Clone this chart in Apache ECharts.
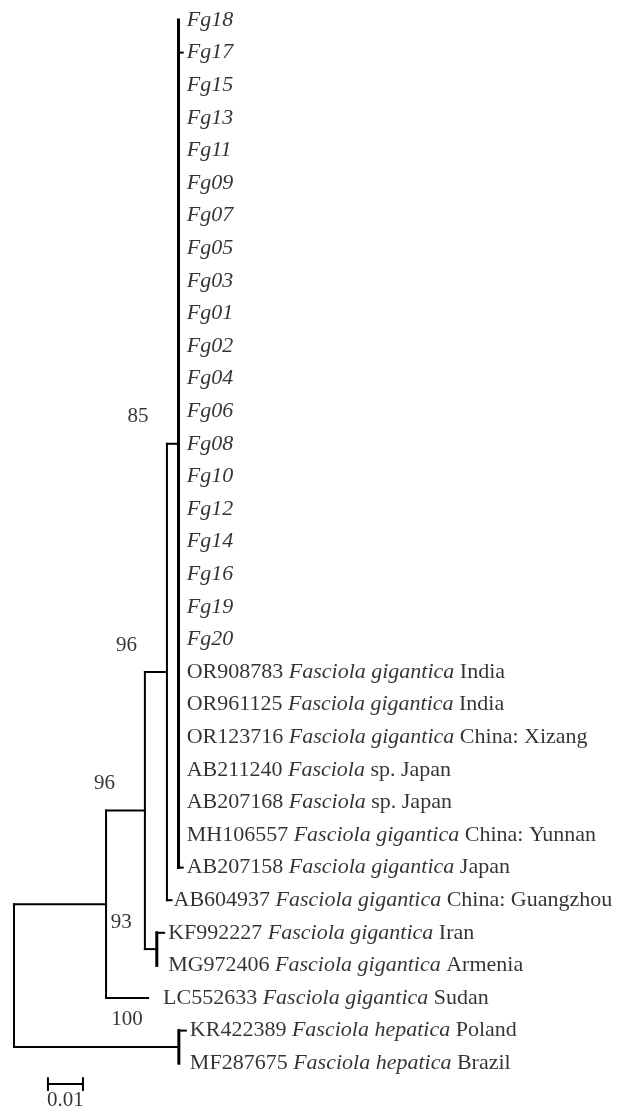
<!DOCTYPE html>
<html>
<head>
<meta charset="utf-8">
<script src="https://cdn.jsdelivr.net/npm/echarts@6/dist/echarts.min.js"></script>
<style>
html,body{margin:0;padding:0;background:#fff;}
#chart{width:623px;height:1106px;}
</style>
</head>
<body>
<div id="chart"></div>
<script>
// ---- Data ----
const leafIds = ['Fg18','Fg17','Fg15','Fg13','Fg11','Fg09','Fg07','Fg05','Fg03','Fg01',
  'Fg02','Fg04','Fg06','Fg08','Fg10','Fg12','Fg14','Fg16','Fg19','Fg20',
  'OR908783','OR961125','OR123716','AB211240','AB207168','MH106557','AB207158',
  'AB604937','KF992227','MG972406','LC552633','KR422389','MF287675'];
const leafTaxa = ['','','','','','','','','','','','','','','','','','','','',
  'Fasciola gigantica','Fasciola gigantica','Fasciola gigantica','Fasciola','Fasciola',
  'Fasciola gigantica','Fasciola gigantica','Fasciola gigantica','Fasciola gigantica',
  'Fasciola gigantica','Fasciola gigantica','Fasciola hepatica','Fasciola hepatica'];
const leafPlaces = ['','','','','','','','','','','','','','','','','','','','',
  'India','India','China: Xizang','sp. Japan','sp. Japan','China: Yunnan','Japan',
  'China: Guangzhou','Iran','Armenia','Sudan','Poland','Brazil'];
// parent internal node index of each leaf
const leafParents = [4,4,4,4,4,4,4,4,4,4,4,4,4,4,4,4,4,4,4,4,
  4,4,4,4,4,4,4,3,5,5,1,6,6];
const leafLengths = [0,0.0012,0,0,0,0,0,0,0,0,0,0,0,0,0,0,0,0,0,0,
  0,0,0,0,0,0,0.0012,0.0013,0.0021,0,0.0120,0.0020,0];
// internal nodes
const nodeIds = ['root','ingroup','cladeA','cladeB','cladeC','kfmg','hepatica'];
const nodeParents = [-1,0,1,2,3,2,0];
const nodeLengths = [0,0.0263,0.0111,0.0063,0.0033,0.0034,0.0471];
// bootstrap support
const bootNodes = [4,3,2,5,6];
const bootValues = ['85','96','96','93','100'];
// scale bar
const scaleStart = 0.0097;
const scaleLength = 0.01;
const scaleLabel = '0.01';

// ---- Layout from tree ----
const nN = nodeIds.length;
const nodeX = new Array(nN).fill(0);
for (let i = 0; i < nN; i++) {
  nodeX[i] = nodeParents[i] < 0 ? 0 : nodeX[nodeParents[i]] + nodeLengths[i];
}
const leafX = leafIds.map((_, j) => nodeX[leafParents[j]] + leafLengths[j]);
const leafY = leafIds.map((_, j) => j);
const childYs = {};
const nodeY = new Array(nN).fill(null);
function yOf(i) {
  if (nodeY[i] !== null) return nodeY[i];
  const ys = [];
  for (let k = 0; k < nN; k++) if (nodeParents[k] === i) ys.push(yOf(k));
  leafIds.forEach((_, j) => { if (leafParents[j] === i) ys.push(leafY[j]); });
  childYs[i] = ys;
  nodeY[i] = (Math.min(...ys) + Math.max(...ys)) / 2;
  return nodeY[i];
}
for (let i = 0; i < nN; i++) yOf(i);

// segments [x1,y1,x2,y2,width]
const segs = [];
for (let i = 0; i < nN; i++) {
  const ys = childYs[i];
  const zeroKids = leafIds.some((_, j) => leafParents[j] === i && leafLengths[j] === 0);
  segs.push([nodeX[i], Math.min(...ys), nodeX[i], Math.max(...ys), zeroKids ? 3 : 2]);
  if (nodeParents[i] >= 0 && nodeLengths[i] > 0) {
    segs.push([nodeX[nodeParents[i]], nodeY[i], nodeX[i], nodeY[i], 2]);
  }
}
leafIds.forEach((_, j) => {
  if (leafLengths[j] > 0) segs.push([nodeX[leafParents[j]], leafY[j], leafX[j], leafY[j], 2]);
});
const barY = 32.64;
segs.push([scaleStart, barY, scaleStart + scaleLength, barY, 2]);
segs.push([scaleStart, barY - 0.18, scaleStart, barY + 0.18, 2]);
segs.push([scaleStart + scaleLength, barY - 0.18, scaleStart + scaleLength, barY + 0.18, 2]);

// leaf labels anchored at max sibling tip
const labelGap = { LC552633: 15, AB604937: 2 };
const leafLabelData = leafIds.map((id, j) => {
  let mx = 0;
  leafIds.forEach((_, k) => { if (leafParents[k] === leafParents[j]) mx = Math.max(mx, leafX[k]); });
  let txt;
  if (!leafTaxa[j]) txt = '{i|' + id + '}';
  else txt = '{n|' + id + ' }{i|' + leafTaxa[j] + '}{n| ' + leafPlaces[j] + '}';
  return {
    value: [mx, leafY[j]],
    label: { formatter: txt, distance: labelGap[id] !== undefined ? labelGap[id] : 4 }
  };
});
const bootShift = { '100': -36, '93': -25 };
const bootData = bootNodes.map((n, k) => ({
  value: [nodeX[n], nodeY[n]],
  name: bootValues[k],
  label: { position: [bootShift[bootValues[k]] || -30, -27] }
}));

const FONT = 'Liberation Serif';
const ROW = 32.6;
const chart = echarts.init(document.getElementById('chart'), null, { renderer: 'canvas' });
chart.setOption({
  backgroundColor: '#fff',
  animation: false,
  grid: { left: 14, top: 20, width: 595, height: 33 * ROW },
  xAxis: { type: 'value', min: 0, max: 0.17, show: false },
  yAxis: { type: 'value', min: 0, max: 33, inverse: true, show: false },
  series: [
    {
      type: 'custom',
      clip: false,
      data: segs,
      renderItem: function (params, api) {
        const p1 = api.coord([api.value(0), api.value(1)]);
        const p2 = api.coord([api.value(2), api.value(3)]);
        return {
          type: 'line',
          shape: { x1: p1[0], y1: p1[1], x2: p2[0], y2: p2[1] },
          style: { stroke: '#000', lineWidth: api.value(4), lineCap: 'square' }
        };
      }
    },
    {
      type: 'scatter',
      symbolSize: 0,
      silent: true,
      clip: false,
      data: leafLabelData,
      label: {
        show: true,
        position: 'right',
        color: '#000',
        rich: {
          n: { fontFamily: FONT, fontSize: 22, color: '#000' },
          i: { fontFamily: FONT, fontSize: 22, fontStyle: 'italic', color: '#000' }
        }
      }
    },
    {
      type: 'scatter',
      symbolSize: 0,
      silent: true,
      clip: false,
      data: bootData,
      label: {
        show: true,
        formatter: '{b}',
        align: 'right',
        verticalAlign: 'middle',
        fontFamily: FONT,
        fontSize: 21,
        color: '#000'
      }
    },
    {
      type: 'scatter',
      symbolSize: 0,
      silent: true,
      clip: false,
      data: [{ value: [scaleStart + scaleLength / 2, barY], name: scaleLabel }],
      label: {
        show: true,
        formatter: '{b}',
        position: 'bottom',
        distance: 6,
        fontFamily: FONT,
        fontSize: 21,
        color: '#000'
      }
    }
  ]
});
</script>
</body>
</html>
